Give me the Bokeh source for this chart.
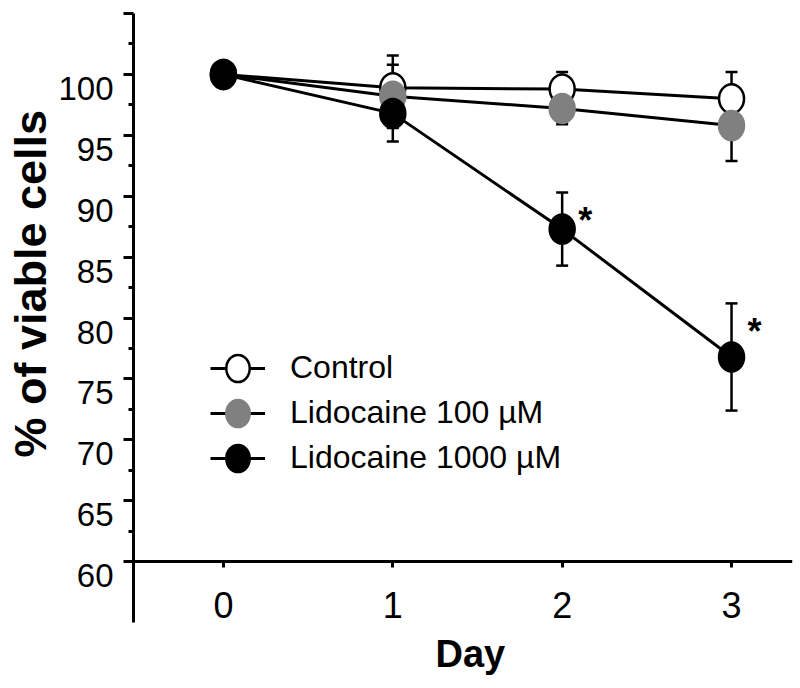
from bokeh.plotting import figure
from bokeh.models import FixedTicker, Legend, LegendItem, LinearAxis, Range1d, Title
from bokeh.embed import file_html
from bokeh.resources import INLINE
from bokeh.core.properties import value

# ---- data ----
days = [0, 1, 2, 3]
control = [100.0, 98.9, 98.8, 98.0]
control_se = [0.0, 2.65, 1.4, 2.2]
lido100 = [100.0, 98.2, 97.2, 95.8]
lido100_se = [0.0, 2.6, 1.3, 2.9]
lido1000 = [100.0, 96.8, 87.3, 76.8]
lido1000_se = [0.0, 2.3, 3.0, 4.4]
significant = [False, False, True, True]

series_names = ["Control", "Lidocaine 100 \u00b5M", "Lidocaine 1000 \u00b5M"]
series_fill = ["white", "#808080", "black"]
series_edge = ["black", "#808080", "black"]

y_major_ticks = [60, 65, 70, 75, 80, 85, 90, 95, 100, 105]
y_minor_ticks = [62.5, 67.5, 72.5, 77.5, 82.5, 87.5, 92.5, 97.5, 102.5]
y_labelled_ticks = [60, 65, 70, 75, 80, 85, 90, 95, 100]
x_ticks = [0, 1, 2, 3]
y_title = "% of viable cells"
x_title = "Day"

FONT = "Liberation Sans"
Y_START, Y_END = 55, 105
LABEL_SHIFT = 1.15   # tick labels sit slightly below their ticks in the reference

p = figure(width=800, height=688, x_range=(-0.531, 3.36), y_range=(Y_START, Y_END),
           output_backend="svg", toolbar_location=None,
           min_border_left=133, min_border_right=8, min_border_top=13,
           min_border_bottom=66)
p.outline_line_color = None
p.xgrid.visible = False
p.ygrid.visible = False
p.background_fill_color = "white"
p.border_fill_color = "white"

# y axis: line and ticks only
ya = p.yaxis[0]
ya.ticker = FixedTicker(ticks=y_major_ticks, minor_ticks=y_minor_ticks)
ya.axis_line_width = 3
ya.major_tick_line_width = 3
ya.minor_tick_line_width = 3
ya.major_tick_out = 10
ya.major_tick_in = 0
ya.minor_tick_out = 5
ya.minor_tick_in = 0
ya.major_label_overrides = {t: "" for t in y_major_ticks}
ya.major_label_text_color = None
ya.major_label_standoff = 0

# y axis tick labels (drawn slightly lower, as in the reference)
p.extra_y_ranges = {"labels": Range1d(Y_START + LABEL_SHIFT, Y_END + LABEL_SHIFT)}
yl = LinearAxis(y_range_name="labels",
                ticker=FixedTicker(ticks=y_labelled_ticks, minor_ticks=[]),
                axis_line_color=None, major_tick_line_color=None, minor_tick_line_color=None,
                major_tick_out=0, major_tick_in=0, minor_tick_out=0, minor_tick_in=0,
                major_label_standoff=10, major_label_text_font=FONT,
                major_label_text_font_size="33px", major_label_text_color="black")
p.add_layout(yl, "left")

# y title, sitting a little above the axis centre as in the reference
p.add_layout(Title(text=y_title, align="left", offset=165,
                   text_font=FONT, text_font_style="bold", text_font_size="45px",
                   text_color="black", standoff=0), "left")

# x axis crossing at 60
xa = p.xaxis[0]
xa.fixed_location = 60
xa.ticker = FixedTicker(ticks=x_ticks, minor_ticks=[])
xa.axis_line_width = 3
xa.major_tick_line_width = 3
xa.major_tick_out = 6
xa.major_tick_in = 0
xa.minor_tick_out = 0
xa.major_label_text_font = FONT
xa.major_label_text_font_size = "36px"
xa.major_label_text_color = "black"
xa.major_label_standoff = 24

p.add_layout(Title(text=x_title, align="left", offset=302,
                   text_font=FONT, text_font_style="bold", text_font_size="38px",
                   text_color="black", standoff=17), "below")

all_means = [control, lido100, lido1000]
all_se = [control_se, lido100_se, lido1000_se]

# error bars
for means, se in zip(all_means, all_se):
    lo = [m - s for m, s in zip(means, se)]
    hi = [m + s for m, s in zip(means, se)]
    p.segment(x0=days, y0=lo, x1=days, y1=hi, line_color="black", line_width=2.5)
    p.scatter(x=days, y=lo, marker="dash", size=12, line_color="black", line_width=2.5)
    p.scatter(x=days, y=hi, marker="dash", size=12, line_color="black", line_width=2.5)

# lines
line_rs = []
for means in all_means:
    line_rs.append(p.line(x=days, y=means, line_color="black", line_width=3))

# markers
mark_rs = []
for means, fc, ec in zip(all_means, series_fill, series_edge):
    mark_rs.append(p.ellipse(x=days, y=means, width=25, height=29,
                             width_units="screen", height_units="screen",
                             fill_color=fc, line_color=ec, line_width=2.5))

# significance asterisks next to the 1000 uM error bars
sig_x = [d for d, s in zip(days, significant) if s]
sig_y = [m + s for m, s, f in zip(lido1000, lido1000_se, significant) if f]
p.text(x=sig_x, y=sig_y, text=["*"] * len(sig_x), x_offset=23, y_offset=28,
       text_font=value(FONT), text_font_style="bold", text_font_size="36px",
       text_align="center", text_baseline="middle", text_color="black")

legend = Legend(items=[LegendItem(label=n, renderers=[lr, mr])
                       for n, lr, mr in zip(series_names, line_rs, mark_rs)],
                location=(77, 146), glyph_width=55, glyph_height=34,
                label_height=34, spacing=8, label_standoff=25,
                padding=0, margin=0, border_line_color=None,
                background_fill_alpha=0,
                label_text_font=FONT, label_text_font_size="32px",
                label_text_color="black")
p.add_layout(legend)

open("out.html", "w").write(file_html(p, INLINE))
